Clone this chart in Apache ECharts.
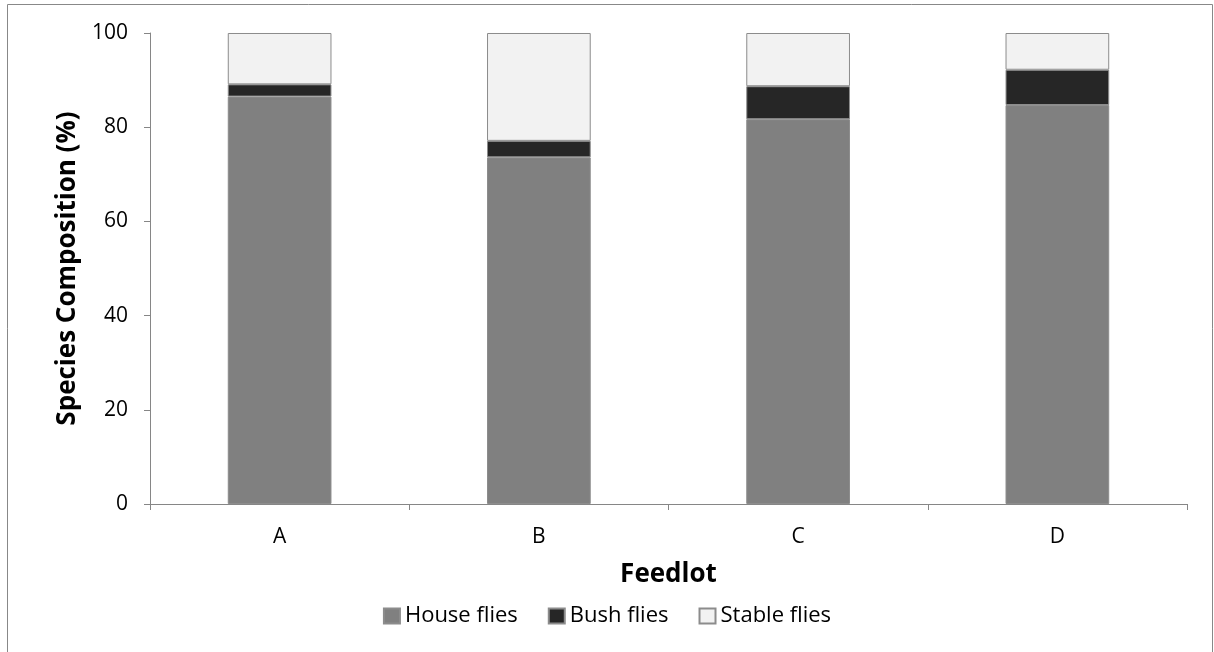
<!DOCTYPE html>
<html><head><meta charset="utf-8">
<script src="https://cdn.jsdelivr.net/npm/echarts@6/dist/echarts.min.js"></script>
<style>html,body{margin:0;padding:0;background:#fff}#c{width:1214px;height:652px}</style>
</head><body><div id="c"></div>
<script>
const categories = ['A', 'B', 'C', 'D'];
const houseFlies = [86.5, 73.6, 81.7, 84.7];
const bushFlies = [2.6, 3.5, 7.0, 7.5];
const stableFlies = [10.9, 22.9, 11.3, 7.8];
const yTicks = [0, 20, 40, 60, 80, 100];

const FONT = '"Open Sans", "Noto Sans", sans-serif';
const chart = echarts.init(document.getElementById('c'));
const borderStyle = {borderColor: '#8c8c8c', borderWidth: 1};
chart.setOption({
  animation: false,
  textStyle: {fontFamily: FONT},
  graphic: [{type: 'rect', shape: {x: 7.5, y: 4.5, width: 1205, height: 660}, style: {fill: 'none', stroke: '#888', lineWidth: 1}, silent: true}],
  grid: {left: 150, right: 27, top: 33, bottom: 148},
  legend: {
    top: 600, left: 'center', itemWidth: 16, itemHeight: 15, itemGap: 30,
    icon: 'rect',
    textStyle: {fontSize: 22, color: '#000', fontFamily: FONT},
    data: ['House flies', 'Bush flies', 'Stable flies']
  },
  xAxis: {
    type: 'category', data: categories,
    name: 'Feedlot', nameLocation: 'middle', nameGap: 58,
    nameTextStyle: {fontSize: 26, fontWeight: 'bold', color: '#000'},
    axisLine: {lineStyle: {color: '#868686', width: 1}},
    axisTick: {show: true, length: 6, lineStyle: {color: '#868686'}},
    axisLabel: {fontSize: 21, color: '#000', margin: 23}
  },
  yAxis: {
    type: 'value', min: 0, max: 100, interval: 20,
    name: 'Species Composition (%)', nameLocation: 'middle', nameGap: 69,
    nameTextStyle: {fontSize: 26, fontWeight: 'bold', color: '#000'},
    splitLine: {show: false},
    axisLine: {show: true, lineStyle: {color: '#868686', width: 1}},
    axisTick: {show: true, length: 6, lineStyle: {color: '#868686'}},
    axisLabel: {fontSize: 21, color: '#000', margin: 22,
      formatter: v => yTicks.includes(v) ? String(v) : ''}
  },
  series: [
    {name: 'House flies', type: 'bar', stack: 's', data: houseFlies, barWidth: '40%',
     itemStyle: Object.assign({color: '#808080'}, borderStyle)},
    {name: 'Bush flies', type: 'bar', stack: 's', data: bushFlies, barWidth: '40%',
     itemStyle: Object.assign({color: '#262626'}, borderStyle)},
    {name: 'Stable flies', type: 'bar', stack: 's', data: stableFlies, barWidth: '40%',
     itemStyle: Object.assign({color: '#f2f2f2'}, borderStyle)}
  ]
});
</script></body></html>
